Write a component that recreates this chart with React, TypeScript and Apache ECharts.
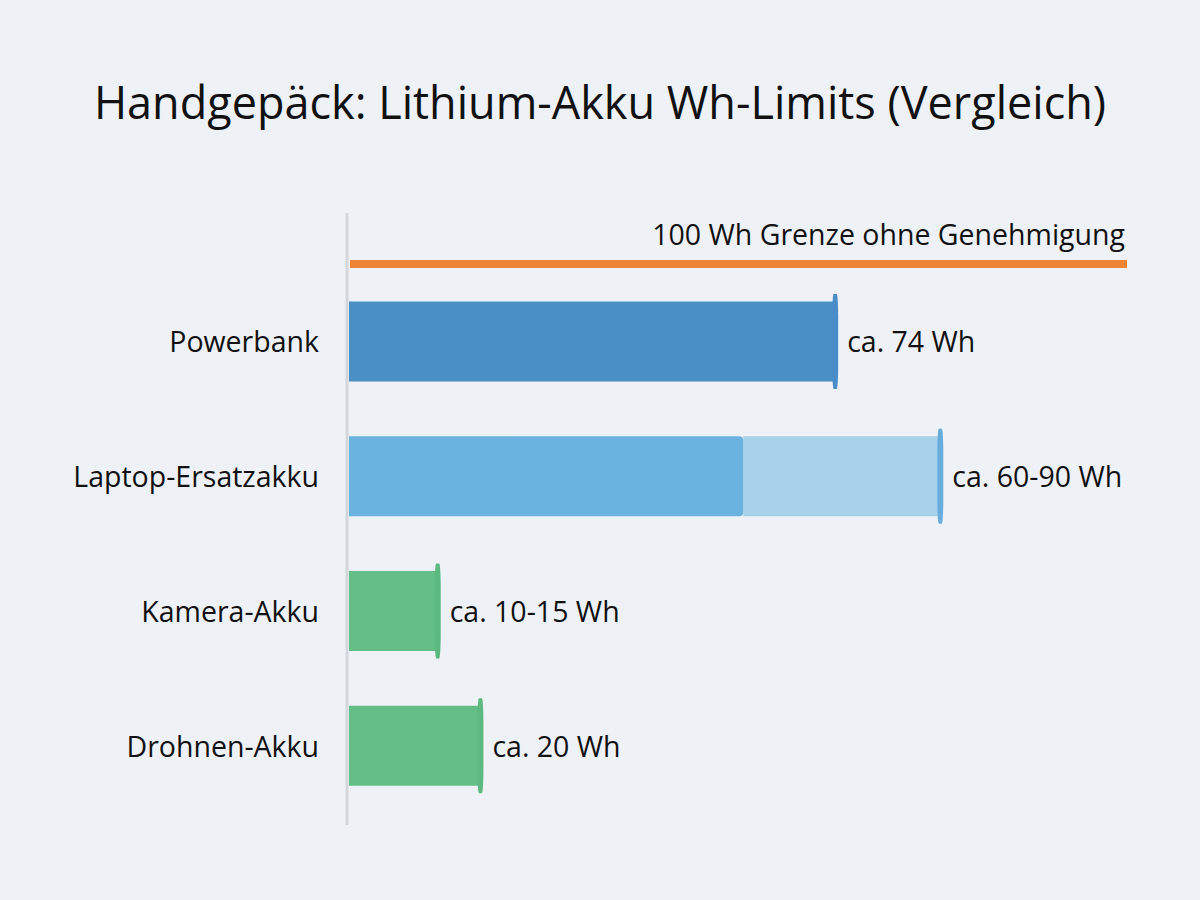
import React, { useEffect, useRef } from "react";
import * as echarts from "echarts";

const categories = ["Powerbank", "Laptop-Ersatzakku", "Kamera-Akku", "Drohnen-Akku"];
const baseValues = [74, 60, 13.5, 20];
const extraValues = [0, 30, 0, 0];
const endValues = [74, 90, 13.5, 20];
const valueLabels = ["ca. 74 Wh", "ca. 60-90 Wh", "ca. 10-15 Wh", "ca. 20 Wh"];
const baseColors = ["#4a90c7", "#6bb3df", "#63be88", "#63be88"];
const capColors = ["#4a8cc9", "#67acdb", "#5cb981", "#5cb981"];
const limitLabel = "100 Wh Grenze ohne Genehmigung";
const title = "Handgepäck: Lithium-Akku Wh-Limits (Vergleich)";

const FONT = "'Open Sans', 'Noto Sans', sans-serif";

export default function App() {
  const ref = useRef<HTMLDivElement>(null);
  useEffect(() => {
    if (!ref.current) return;
    const chart = echarts.init(ref.current, null, { renderer: "svg" });
    chart.setOption({
      animation: false,
      backgroundColor: "#eef2f7",
      title: {
        text: title,
        left: "center",
        top: 74,
        textStyle: { fontFamily: FONT, fontSize: 45, fontWeight: "normal", color: "#111" },
      },
      grid: { left: 349, top: 274, width: 657, height: 539, containLabel: false },
      xAxis: {
        type: "value",
        min: 0,
        max: 100,
        show: false,
      },
      yAxis: {
        type: "category",
        data: categories,
        inverse: true,
        axisLine: { show: false },
        axisTick: { show: false },
        axisLabel: { fontFamily: FONT, fontSize: 28.5, color: "#111", margin: 30 },
      },
      series: [
        {
          type: "bar",
          stack: "s",
          barWidth: 80,
          data: baseValues.map((v, i) => ({
            value: v,
            itemStyle: {
              color: baseColors[i],
              borderRadius: i === 1 ? [0, 4, 4, 0] : 0,
            },
          })),
          z: 3,
        },
        {
          type: "bar",
          stack: "s",
          barWidth: 80,
          data: extraValues,
          itemStyle: { color: "#a8d1ea" },
          z: 2,
        },
        {
          type: "scatter",
          symbol: "roundRect",
          symbolSize: [6, 95],
          data: endValues.map((v, i) => ({
            value: [v, categories[i]],
            itemStyle: { color: capColors[i], opacity: 1 },
            label: { formatter: valueLabels[i] },
          })),
          itemStyle: { opacity: 1 },
          label: {
            show: true,
            position: "right",
            distance: 9,
            fontFamily: FONT,
            fontSize: 28.5,
            color: "#111",
            opacity: 1,
          },
          z: 5,
        },
      ],
      graphic: [
        {
          type: "line",
          shape: { x1: 347, y1: 213, x2: 347, y2: 825 },
          style: { stroke: "#d3d7dc", lineWidth: 3 },
        },
        {
          type: "rect",
          shape: { x: 350, y: 260, width: 777, height: 8 },
          style: { fill: "#ec8434" },
        },
        {
          type: "text",
          right: 75,
          top: 219,
          style: { text: limitLabel, font: `28.5px ${FONT}`, fill: "#111" },
        },
      ],
    });
    return () => chart.dispose();
  }, []);
  return (
    <div
      ref={ref}
      style={{ position: "fixed", left: 0, top: 0, width: 1200, height: 900 }}
    />
  );
}
